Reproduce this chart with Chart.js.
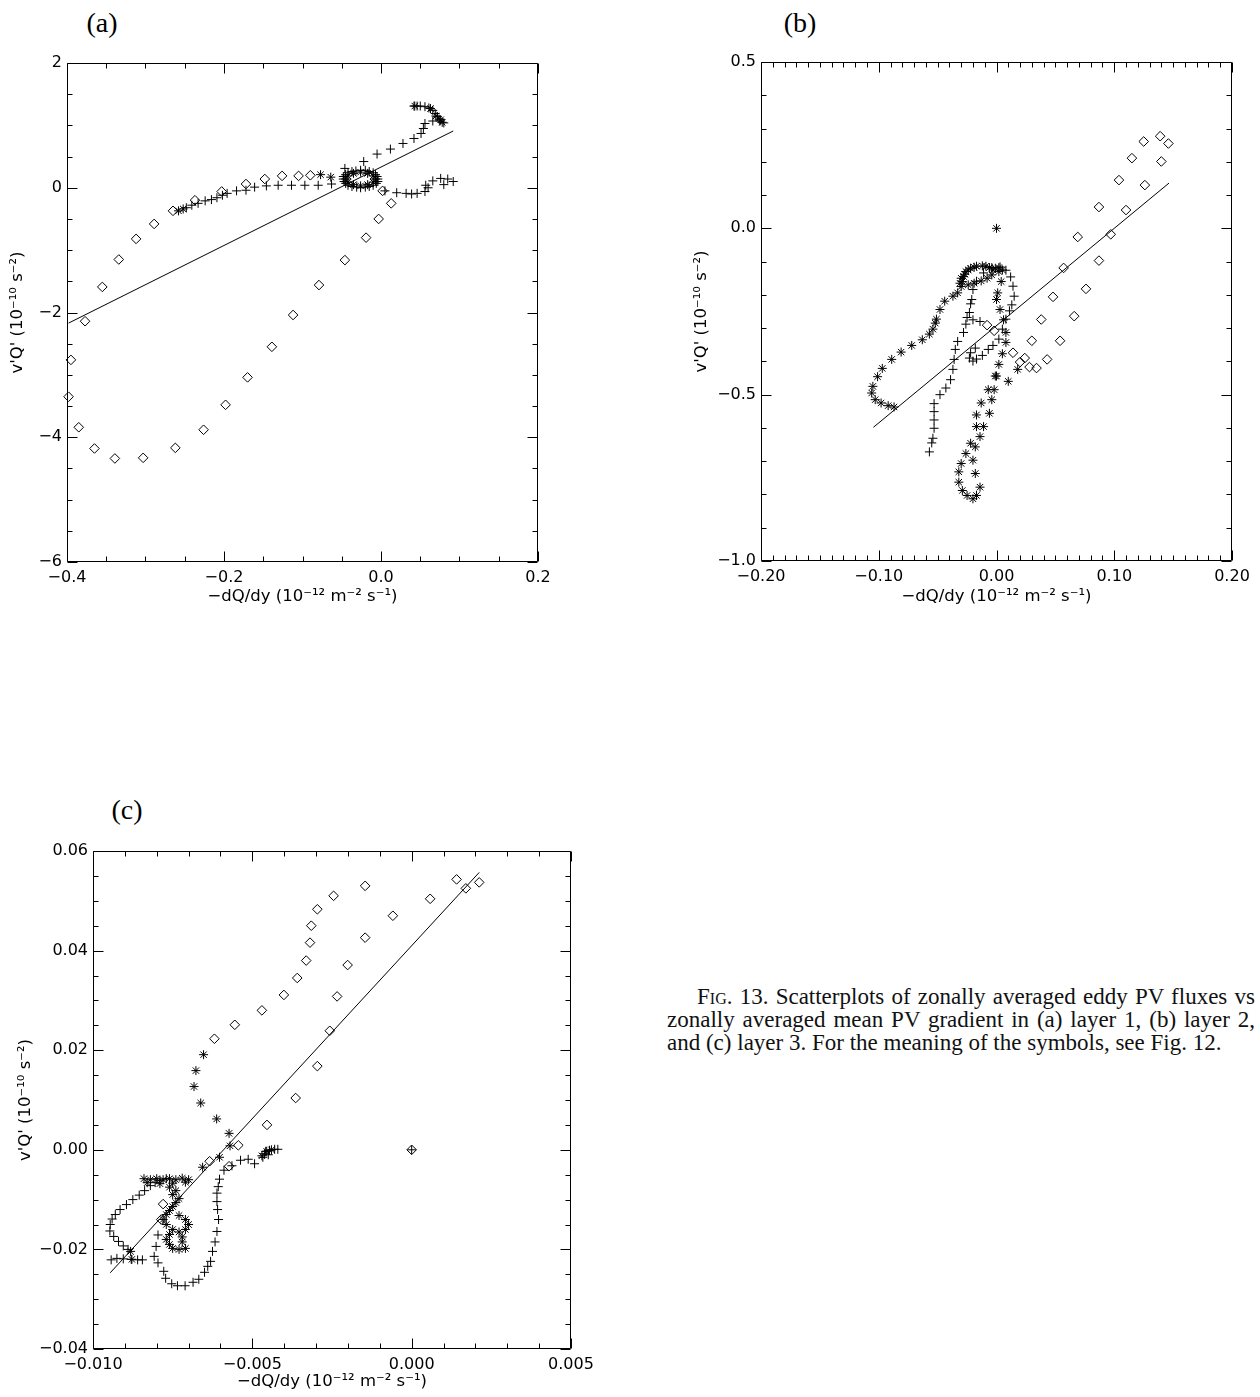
<!DOCTYPE html>
<html>
<head>
<meta charset="utf-8">
<script src="https://cdn.jsdelivr.net/npm/chart.js@4.4.1/dist/chart.umd.min.js"></script>
<style>
  body { margin: 0; background: #fff; width: 1260px; height: 1397px; position: relative; overflow: hidden; }
  canvas { position: absolute; }
  .tag { position: absolute; font-family: "Liberation Serif", serif; font-size: 28px; line-height: 1; transform: translateX(-50%); color: #000; }
  .caption { position: absolute; left: 667px; top: 985px; width: 588px; font-family: "Liberation Serif", serif; font-size: 23px; line-height: 23px; color: #111; }
  .caption div { text-align: justify; text-align-last: justify; white-space: nowrap; }
  .caption div.last { text-align: left; text-align-last: left; }
  .sc { font-variant: small-caps; }
</style>
</head>
<body>
<div class="tag" style="left:102px; top:9px">(a)</div>
<div class="tag" style="left:800px; top:9px">(b)</div>
<div class="tag" style="left:127px; top:796px">(c)</div>

<canvas id="chart-a" width="620" height="640" style="left:0; top:0"></canvas>
<canvas id="chart-b" width="580" height="640" style="left:680px; top:0"></canvas>
<canvas id="chart-c" width="620" height="607" style="left:0; top:790px"></canvas>

<div class="caption">
  <div style="text-indent:30px">F<span class="sc">ig</span>. 13. Scatterplots of zonally averaged eddy PV fluxes vs</div>
  <div>zonally averaged mean PV gradient in (a) layer 1, (b) layer 2,</div>
  <div class="last">and (c) layer 3. For the meaning of the symbols, see Fig. 12.</div>
</div>

<script>
// ---------- layer 1 ----------
const A_X_TICKS = [-0.4, -0.2, 0.0, 0.2];
const A_X_LABELS = ['−0.4', '−0.2', '0.0', '0.2'];
const A_Y_TICKS = [-6, -4, -2, 0, 2];
const A_Y_LABELS = ['−6', '−4', '−2', '0', '2'];

const A_DIAMOND_X = [-0.090, -0.105, -0.126, -0.148, -0.172, -0.203, -0.237, -0.265, -0.289, -0.312,
  -0.334, -0.355, -0.377, -0.395, -0.398, -0.385, -0.365, -0.339, -0.303, -0.262, -0.226, -0.198,
  -0.170, -0.139, -0.112, -0.079, -0.046, -0.019, -0.003, 0.013, 0.002];
const A_DIAMOND_Y = [0.20, 0.19, 0.19, 0.14, 0.06, -0.06, -0.20, -0.37, -0.58, -0.82,
  -1.15, -1.59, -2.14, -2.76, -3.35, -3.84, -4.18, -4.34, -4.33, -4.17, -3.88, -3.48,
  -3.04, -2.55, -2.04, -1.56, -1.16, -0.80, -0.50, -0.25, -0.05];

const A_PLUS_X = [-0.248, -0.241, -0.233, -0.224, -0.216, -0.209, -0.202, -0.196, -0.184, -0.172,
  -0.161, -0.146, -0.131, -0.114, -0.097, -0.080, -0.063,
  -0.046, -0.022, -0.005, 0.012, 0.028, 0.042, 0.051, 0.054, 0.056, 0.066, 0.075, 0.080,
  0.042, 0.046, 0.050, 0.056, 0.061, 0.066, 0.069, 0.072, 0.074,
  0.005, 0.020, 0.032, 0.039, 0.046, 0.056, 0.060, 0.057, 0.066, 0.076, 0.085, 0.092, 0.080,
  -0.004, -0.005, -0.007, -0.010, -0.015, -0.020, -0.026, -0.032, -0.037, -0.042, -0.045, -0.048,
  -0.048, -0.047, -0.045, -0.042, -0.037, -0.031, -0.026, -0.020, -0.015, -0.010, -0.006, -0.004];
const A_PLUS_Y = [-0.32, -0.28, -0.25, -0.21, -0.19, -0.16, -0.12, -0.09, -0.05, -0.04,
  0.01, 0.03, 0.04, 0.04, 0.04, 0.04, 0.06,
  0.31, 0.42, 0.54, 0.62, 0.71, 0.79, 0.87, 0.95, 1.03, 1.07, 1.07, 1.04,
  1.31, 1.31, 1.31, 1.30, 1.28, 1.24, 1.19, 1.14, 1.10,
  -0.05, -0.08, -0.09, -0.10, -0.09, -0.06, 0.00, 0.04, 0.11, 0.15, 0.14, 0.10, 0.05,
  0.14, 0.18, 0.21, 0.24, 0.26, 0.28, 0.28, 0.27, 0.26, 0.24, 0.21, 0.18,
  0.14, 0.10, 0.07, 0.04, 0.02, 0.01, 0.00, 0.01, 0.02, 0.04, 0.07, 0.10];

const A_STAR_X = [-0.258, -0.252, -0.077, -0.064, 0.043, 0.063, 0.070, 0.078, 0.076,
  -0.007, -0.010, -0.017, -0.026, -0.035, -0.042, -0.045, -0.042, -0.035, -0.026, -0.017, -0.010];
const A_STAR_Y = [-0.37, -0.34, 0.21, 0.17, 1.31, 1.27, 1.15, 1.05, 1.09,
  0.14, 0.19, 0.23, 0.25, 0.23, 0.19, 0.14, 0.09, 0.05, 0.03, 0.05, 0.09];

const A_FIT_X = [-0.398, 0.092];
const A_FIT_Y = [-2.17, 0.91];

// ---------- layer 2 ----------
const B_X_TICKS = [-0.2, -0.1, 0.0, 0.1, 0.2];
const B_X_LABELS = ['−0.20', '−0.10', '0.00', '0.10', '0.20'];
const B_Y_TICKS = [-1.0, -0.5, 0.0, 0.5];
const B_Y_LABELS = ['−1.0', '−0.5', '0.0', '0.5'];

const B_DIAMOND_X = [0.139, 0.125, 0.146, 0.115, 0.140, 0.104, 0.126, 0.087, 0.110, 0.069, 0.097,
  0.057, 0.087, 0.048, 0.076, 0.038, 0.066, 0.054, 0.030, 0.043, 0.014, 0.024, 0.020, 0.028, 0.034,
  -0.008, -0.002];
const B_DIAMOND_Y = [0.277, 0.261, 0.255, 0.211, 0.201, 0.145, 0.130, 0.064, 0.055, -0.026, -0.018,
  -0.119, -0.097, -0.206, -0.182, -0.274, -0.264, -0.338, -0.338, -0.394, -0.374, -0.390, -0.402, -0.417, -0.420,
  -0.291, -0.308];

const B_PLUS_X = [-0.057, -0.055, -0.054, -0.053, -0.053, -0.053, -0.053, -0.048, -0.043, -0.039,
  -0.037, -0.036, -0.035, -0.033, -0.028, -0.026, -0.025, -0.023, -0.022, -0.021, -0.020, -0.017,
  -0.011, -0.004, 0.003, 0.008, 0.012, 0.014, 0.015, 0.013, 0.011, 0.008, 0.005, 0.002, -0.003,
  -0.007, -0.012, -0.017, -0.020, -0.023, -0.022, -0.018, -0.020, -0.014];
const B_PLUS_Y = [-0.672, -0.645, -0.631, -0.601, -0.576, -0.551, -0.527, -0.500, -0.480, -0.455,
  -0.424, -0.394, -0.364, -0.340, -0.313, -0.288, -0.268, -0.253, -0.227, -0.214, -0.184, -0.159,
  -0.134, -0.118, -0.116, -0.126, -0.146, -0.174, -0.204, -0.230, -0.248, -0.273, -0.303, -0.333, -0.352,
  -0.364, -0.382, -0.393, -0.399, -0.390, -0.374, -0.360, -0.275, -0.280];

const B_STAR_X = [0.000,
  -0.087, -0.092, -0.098, -0.103, -0.106, -0.105, -0.101, -0.097, -0.089, -0.081, -0.072, -0.063,
  -0.057, -0.054, -0.052, -0.051, -0.048, -0.044, -0.037, -0.033, -0.030, -0.029, -0.028, -0.026,
  -0.022, -0.017, -0.012, -0.006, -0.003, -0.004, -0.008, -0.013, -0.019, -0.024,
  -0.030, -0.031, -0.027, -0.024, -0.019, -0.009, -0.001, 0.002, 0.005,
  0.001, 0.000, 0.003, 0.006, 0.008, 0.008, 0.005, 0.002, 0.000, -0.002, -0.004, -0.006, -0.011,
  -0.014, -0.018, -0.020, -0.018, -0.014, -0.017, -0.020, -0.025, -0.029, -0.032, -0.032, -0.030,
  -0.026, -0.022, -0.017, -0.017, -0.013, -0.007, -0.001, 0.010, 0.018, 0.004, 0.002];
const B_STAR_Y = [0.000,
  -0.537, -0.533, -0.525, -0.515, -0.495, -0.475, -0.446, -0.421, -0.394, -0.372, -0.352, -0.335,
  -0.318, -0.303, -0.285, -0.273, -0.244, -0.219, -0.204, -0.194, -0.175, -0.160, -0.145, -0.130,
  -0.120, -0.114, -0.113, -0.118, -0.125, -0.140, -0.150, -0.158, -0.165, -0.170,
  -0.150, -0.165, -0.138, -0.125, -0.117, -0.114, -0.120, -0.118, -0.125,
  -0.194, -0.214, -0.244, -0.275, -0.313, -0.343, -0.377, -0.409, -0.444, -0.485, -0.515, -0.556, -0.596,
  -0.626, -0.657, -0.697, -0.737, -0.778, -0.803, -0.813, -0.803, -0.788, -0.763, -0.732, -0.707,
  -0.677, -0.646, -0.596, -0.561, -0.525, -0.485, -0.444, -0.460, -0.424, -0.160, -0.130];

const B_FIT_X = [-0.1045, 0.1465];
const B_FIT_Y = [-0.598, 0.136];

// ---------- layer 3 ----------
const C_X_TICKS = [-0.010, -0.005, 0.000, 0.005];
const C_X_LABELS = ['−0.010', '−0.005', '0.000', '0.005'];
const C_Y_TICKS = [-0.04, -0.02, 0.00, 0.02, 0.04, 0.06];
const C_Y_LABELS = ['−0.04', '−0.02', '0.00', '0.02', '0.04', '0.06'];

const C_DIAMOND_X = [0.00141, 0.00170, 0.00212, 0.00058, -0.00059, -0.00146, -0.00146, -0.00245,
  -0.00201, -0.00296, -0.00315, -0.00319, -0.00331, -0.00359, -0.00401, -0.00470, -0.00555, -0.00619,
  -0.00234, -0.00257, -0.00296, -0.00364, -0.00454, -0.00544, 0.00000, -0.00634, -0.00573, -0.00780, -0.00786];
const C_DIAMOND_Y = [0.0543, 0.0525, 0.0537, 0.0504, 0.0470, 0.0530, 0.0426, 0.0510,
  0.0371, 0.0483, 0.0450, 0.0416, 0.0380, 0.0345, 0.0311, 0.0280, 0.0251, 0.0223,
  0.0308, 0.0239, 0.0168, 0.0104, 0.0050, 0.0009, 0.0000, -0.0023, -0.0033, -0.0109, -0.0140];

const C_PLUS_X = [-0.00943, -0.00925, -0.00905, -0.00880, -0.00860, -0.00845, -0.00890, -0.00905,
  -0.00920, -0.00935, -0.00947, -0.00946, -0.00940, -0.00930, -0.00915, -0.00895, -0.00875, -0.00855,
  -0.00838, -0.00820, -0.00805, -0.00790, -0.00770,
  -0.00796, -0.00802, -0.00808, -0.00796, -0.00778, -0.00772, -0.00753, -0.00735, -0.00711, -0.00686,
  -0.00668, -0.00650, -0.00640, -0.00631, -0.00625, -0.00617, -0.00611, -0.00606, -0.00609, -0.00611,
  -0.00611, -0.00607, -0.00603, -0.00589, -0.00564, -0.00537, -0.00513, -0.00493, -0.00467, -0.00458,
  -0.00446, -0.00430, -0.00420, -0.00462, -0.00450, 0.00000];
const C_PLUS_Y = [-0.0221, -0.0218, -0.0219, -0.0220, -0.0221, -0.0221, -0.0200, -0.0193,
  -0.0184, -0.0174, -0.0163, -0.0150, -0.0139, -0.0130, -0.0120, -0.0110, -0.0100, -0.0091,
  -0.0082, -0.0072, -0.0066, -0.0062, -0.0058,
  -0.0171, -0.0194, -0.0214, -0.0227, -0.0244, -0.0258, -0.0269, -0.0273, -0.0273, -0.0266,
  -0.0260, -0.0246, -0.0234, -0.0224, -0.0204, -0.0185, -0.0164, -0.0140, -0.0120, -0.0104,
  -0.0087, -0.0074, -0.0059, -0.0041, -0.0032, -0.0021, -0.0019, -0.0028, -0.0015, -0.0003,
  -0.0001, 0.0001, 0.0001, -0.0008, -0.0010, 0.0000];

const C_STAR_X = [-0.00653, -0.00677, -0.00683, -0.00662, -0.00612, -0.00573, -0.00570, -0.00603,
  -0.00656, -0.00882, -0.00878,
  -0.0084, -0.0082, -0.0080, -0.0078, -0.0076, -0.0074, -0.0072, -0.0070, -0.0083, -0.0079, -0.0075, -0.0071,
  -0.0076, -0.0074, -0.0075, -0.0073, -0.0074, -0.0075, -0.0076, -0.0077, -0.0078, -0.0077, -0.0075,
  -0.0073, -0.0071, -0.0070, -0.0071, -0.0073, -0.0076, -0.0077, -0.0076, -0.0075, -0.0073, -0.0071,
  -0.0072, -0.0072, -0.00455, -0.00440, -0.00470];
const C_STAR_Y = [0.0191, 0.0159, 0.0127, 0.0094, 0.0062, 0.0033, 0.0008, -0.0015,
  -0.0035, -0.0204, -0.0220,
  -0.0058, -0.0060, -0.0058, -0.0060, -0.0058, -0.0060, -0.0057, -0.0060, -0.0066, -0.0068, -0.0067, -0.0065,
  -0.0075, -0.0082, -0.0090, -0.0098, -0.0106, -0.0114, -0.0122, -0.0130, -0.0140, -0.0150, -0.0160,
  -0.0165, -0.0160, -0.0150, -0.0140, -0.0132, -0.0170, -0.0180, -0.0190, -0.0198, -0.0200, -0.0198,
  -0.0185, -0.0175, -0.0003, 0.0000, -0.0012];

const C_FIT_X = [-0.00946, 0.00212];
const C_FIT_Y = [-0.0247, 0.0557];

const TICK_FONT = { family: '"DejaVu Sans", sans-serif', size: 16 };
const TITLE_FONT = { family: '"DejaVu Sans", sans-serif', size: 16.5 };
const X_TITLE = '−dQ/dy (10⁻¹² m⁻² s⁻¹)';
const Y_TITLE = "v'Q' (10⁻¹⁰ s⁻²)";

// frame on all four sides with inward major/minor ticks, IDL style
function frameTicks(p) {
  return {
    id: 'frameTicks',
    afterDatasetsDraw(chart) {
      const { ctx, chartArea: a, scales: { x, y } } = chart;
      const L = Math.round(a.left) + 0.5, R = Math.round(a.right) - 0.5;
      const T = Math.round(a.top) + 0.5, B = Math.round(a.bottom) - 0.5;
      ctx.save();
      ctx.strokeStyle = '#000';
      ctx.lineWidth = 1;
      ctx.beginPath();
      ctx.rect(L, T, R - L, B - T);
      const nx = Math.round((x.max - x.min) / p.xStep);
      for (let i = 0; i <= nx; i++) {
        const v = x.min + i * p.xStep;
        const len = p.xTicks.some(t => Math.abs(t - v) < p.xStep / 10) ? 10 : 5;
        const px = Math.round(x.getPixelForValue(v)) + 0.5;
        ctx.moveTo(px, B); ctx.lineTo(px, B - len);
        ctx.moveTo(px, T); ctx.lineTo(px, T + len);
      }
      const ny = Math.round((y.max - y.min) / p.yStep);
      for (let i = 0; i <= ny; i++) {
        const v = y.min + i * p.yStep;
        const len = p.yTicks.some(t => Math.abs(t - v) < p.yStep / 10) ? 10 : 5;
        const py = Math.round(y.getPixelForValue(v)) + 0.5;
        ctx.moveTo(L, py); ctx.lineTo(L + len, py);
        ctx.moveTo(R, py); ctx.lineTo(R - len, py);
      }
      ctx.stroke();
      ctx.restore();
    }
  };
}

function pts(xs, ys) {
  return xs.map((x, i) => ({ x, y: ys[i] }));
}

function symbols(xs, ys, style, r) {
  return {
    data: pts(xs, ys), pointStyle: style, pointRadius: r, pointHoverRadius: r,
    borderColor: '#000', backgroundColor: 'rgba(0,0,0,0)', borderWidth: 1,
    showLine: false, clip: false
  };
}

function makePanel(id, p) {
  new Chart(document.getElementById(id), {
    type: 'scatter',
    data: {
      datasets: [
        { data: pts(p.fitX, p.fitY), showLine: true, borderColor: '#000', borderWidth: 1,
          pointRadius: 0, fill: false, tension: 0, clip: false },
        symbols(p.diamondX, p.diamondY, 'rectRot', 4.8),
        symbols(p.plusX, p.plusY, 'cross', 4.5),
        symbols(p.starX, p.starY, 'star', 4.5)
      ]
    },
    options: {
      responsive: false,
      animation: false,
      events: [],
      layout: { padding: { left: 0, top: p.padTop, right: p.padRight, bottom: 0 } },
      plugins: { legend: { display: false }, tooltip: { enabled: false } },
      scales: {
        x: {
          type: 'linear',
          min: p.xTicks[0], max: p.xTicks[p.xTicks.length - 1],
          grid: { display: false, drawTicks: false },
          border: { display: false },
          afterBuildTicks: s => { s.ticks = p.xTicks.map(v => ({ value: v })); },
          afterFit: s => { s.height = p.xHeight; },
          ticks: { callback: (v, i) => p.xLabels[i], font: TICK_FONT, color: '#000', padding: 6,
            maxRotation: 0, autoSkip: false },
          title: { display: true, text: X_TITLE, font: TITLE_FONT, color: '#000',
            padding: { top: 0, bottom: p.xTitlePad } }
        },
        y: {
          type: 'linear',
          min: p.yTicks[0], max: p.yTicks[p.yTicks.length - 1],
          grid: { display: false, drawTicks: false },
          border: { display: false },
          afterBuildTicks: s => { s.ticks = p.yTicks.map(v => ({ value: v })); },
          afterFit: s => { s.width = p.yWidth; },
          ticks: { callback: (v, i) => p.yLabels[i], font: TICK_FONT, color: '#000', padding: 5,
            autoSkip: false },
          title: { display: true, text: Y_TITLE, font: TITLE_FONT, color: '#000',
            padding: { top: p.yTitlePad, bottom: 0 } }
        }
      }
    },
    plugins: [frameTicks(p)]
  });
}

makePanel('chart-a', {
  xTicks: A_X_TICKS, xLabels: A_X_LABELS, yTicks: A_Y_TICKS, yLabels: A_Y_LABELS,
  xStep: 0.05, yStep: 0.5,
  diamondX: A_DIAMOND_X, diamondY: A_DIAMOND_Y, plusX: A_PLUS_X, plusY: A_PLUS_Y,
  starX: A_STAR_X, starY: A_STAR_Y, fitX: A_FIT_X, fitY: A_FIT_Y,
  padTop: 63, padRight: 82, yWidth: 67, xHeight: 78, xTitlePad: 33, yTitlePad: 8
});

makePanel('chart-b', {
  xTicks: B_X_TICKS, xLabels: B_X_LABELS, yTicks: B_Y_TICKS, yLabels: B_Y_LABELS,
  xStep: 0.01, yStep: 0.1,
  diamondX: B_DIAMOND_X, diamondY: B_DIAMOND_Y, plusX: B_PLUS_X, plusY: B_PLUS_Y,
  starX: B_STAR_X, starY: B_STAR_Y, fitX: B_FIT_X, fitY: B_FIT_Y,
  padTop: 62, padRight: 28, yWidth: 81, xHeight: 79, xTitlePad: 33, yTitlePad: 12
});

makePanel('chart-c', {
  xTicks: C_X_TICKS, xLabels: C_X_LABELS, yTicks: C_Y_TICKS, yLabels: C_Y_LABELS,
  xStep: 0.001, yStep: 0.005,
  diamondX: C_DIAMOND_X, diamondY: C_DIAMOND_Y, plusX: C_PLUS_X, plusY: C_PLUS_Y,
  starX: C_STAR_X, starY: C_STAR_Y, fitX: C_FIT_X, fitY: C_FIT_Y,
  padTop: 61, padRight: 49, yWidth: 93, xHeight: 48, xTitlePad: 5, yTitlePad: 16
});
</script>
</body>
</html>
